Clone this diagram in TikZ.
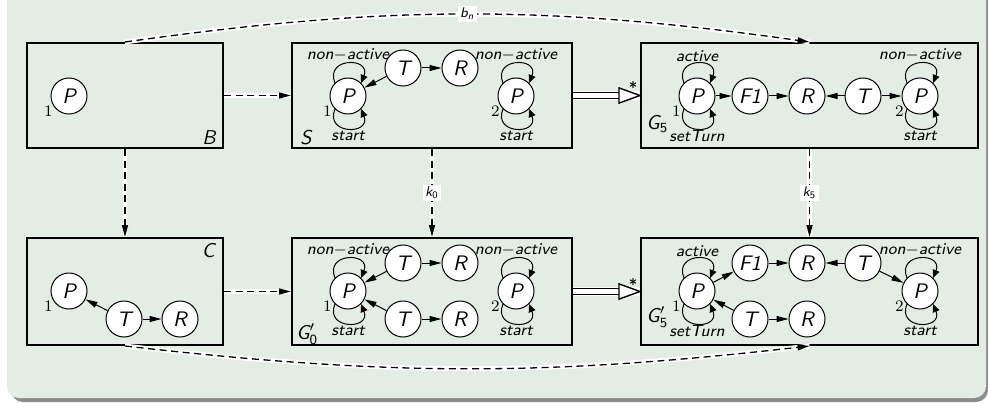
\documentclass[tikz,border=0pt]{standalone}
\usepackage{amsmath}
\usepackage{fontspec}
\usetikzlibrary{arrows.meta}
\definecolor{blockbg}{RGB}{227,237,227}
\definecolor{shadowc}{RGB}{140,140,140}
\newcommand{\looptop}[3]{\draw[lp] (#1.135) .. controls +(112:28) and +(68:28) .. (#1.45) node[midway, above, lt] (#3) {#2};}
\newcommand{\loopbot}[3]{\draw[lp] (#1.225) .. controls +(248:28) and +(292:28) .. (#1.315) node[midway, below, lt] (#3) {#2};}
\begin{document}
\begin{tikzpicture}[x=0.5pt,y=0.5pt,
  st/.style={circle, draw, line width=0.5pt, fill=white, minimum size=18pt, inner sep=0pt, font=\sffamily\itshape\fontsize{10.5}{12}\selectfont},
  box/.style={draw, line width=1pt, inner sep=0pt},
  ed/.style={-{Triangle[length=6pt,width=3pt]}, line width=0.5pt},
  lp/.style={-{Triangle[length=4pt,width=3.5pt]}, line width=0.5pt},
  lt/.style={font=\sffamily\itshape\fontsize{8.2}{9}\selectfont, inner sep=0.8pt},
  num/.style={label={[inner sep=0pt, font=\rmfamily\fontsize{8}{9}\selectfont]210:#1}},
  dsh/.style={dash pattern=on 3.5pt off 2.3pt, line width=0.65pt, -{Triangle[length=6pt,width=3pt]}, preaction={draw=white, line width=2.4pt, solid, -}},
  bl/.style={font=\sffamily\itshape\fontsize{10}{12}\selectfont, inner sep=0pt},
  kl/.style={fill=white, inner sep=1.2pt, font=\sffamily\itshape\fontsize{7}{8}\selectfont},
  dbl/.style={draw, line width=0.7pt, double=white, double distance=2.2pt},
  sym/.style={font=\sffamily\fontsize{8}{9}\selectfont, inner sep=0pt}
]
\useasboundingbox (0,0) rectangle (988,402);
\begin{scope}
\clip (0,0) rectangle (988,402);
\fill[shadowc, rounded corners=6pt] (11,0) rectangle (988,430);
\fill[blockbg, rounded corners=6pt] (7,4) rectangle (986,430);
\end{scope}

% boxes
\node[box, minimum width=98pt, minimum height=52.5pt] (B) at (125,306.5) {};
\node[box, minimum width=140pt, minimum height=52.5pt] (S) at (432,306.5) {};
\node[box, minimum width=168.5pt, minimum height=52.5pt] (G5) at (809.5,306.5) {};
\node[box, minimum width=98pt, minimum height=53.5pt] (C) at (125,110.5) {};
\node[box, minimum width=140pt, minimum height=53.5pt] (G0) at (432,110.5) {};
\node[box, minimum width=168.5pt, minimum height=53.5pt] (G5p) at (809.5,110.5) {};

% box names
\node[bl, anchor=base east] (Blab) at (216,257) {B};
\node[bl, anchor=base west] (Slab) at (300,257) {S};
\node[bl, anchor=base west] (G5lab) at (646,272) {G$_{\textsf{\upshape 5}}$};
\node[bl, anchor=base east] (Clab) at (215,145) {C};
\node[bl, anchor=base west] (G0lab) at (296,63) {G$'_{\textsf{\upshape 0}}$};
\node[bl, anchor=base west] (G5plab) at (646,80) {G$'_{\textsf{\upshape 5}}$};

% B
\node[st, num=1] (PB) at (69,306) {P};

% S
\node[st, num=1] (SP1) at (348,306) {P};
\node[st] (ST) at (403,334) {T};
\node[st] (SR) at (460,334) {R};
\node[st, num=2] (SP2) at (516,306) {P};
\looptop{SP1}{non$-$active}{s1}
\loopbot{SP1}{start}{s2}
\looptop{SP2}{non$-$active}{s3}
\loopbot{SP2}{start}{s4}
\draw[ed] (ST) -- (SP1);
\draw[ed] (ST) -- (SR);

% G5
\node[st, num=1] (GP1) at (697,306) {P};
\node[st] (GF) at (750,306) {F1};
\node[st] (GR) at (807,306) {R};
\node[st] (GT) at (863,306) {T};
\node[st, num=2] (GP2) at (920,306) {P};
\looptop{GP1}{active}{g1}
\loopbot{GP1}{setTurn}{g2}
\looptop{GP2}{non$-$active}{g3}
\loopbot{GP2}{start}{g4}
\draw[ed] (GP1) -- (GF);
\draw[ed] (GF) -- (GR);
\draw[ed] (GT) -- (GR);
\draw[ed] (GT) -- (GP2);

% C
\node[st, num=1] (CP) at (69,111) {P};
\node[st] (CT) at (124,83) {T};
\node[st] (CR) at (180,83) {R};
\draw[ed] (CT) -- (CP);
\draw[ed] (CT) -- (CR);

% G0'
\node[st, num=1] (HP1) at (348,111) {P};
\node[st] (HT1) at (403,139) {T};
\node[st] (HR1) at (460,139) {R};
\node[st] (HT2) at (403,83) {T};
\node[st] (HR2) at (460,83) {R};
\node[st, num=2] (HP2) at (516,111) {P};
\looptop{HP1}{non$-$active}{h1}
\loopbot{HP1}{start}{h2}
\looptop{HP2}{non$-$active}{h3}
\loopbot{HP2}{start}{h4}
\draw[ed] (HT1) -- (HP1);
\draw[ed] (HT1) -- (HR1);
\draw[ed] (HT2) -- (HP1);
\draw[ed] (HT2) -- (HR2);

% G5'
\node[st, num=1] (KP1) at (697,111) {P};
\node[st] (KF) at (750,139) {F1};
\node[st] (KR) at (807,139) {R};
\node[st] (KT) at (863,139) {T};
\node[st, num=2] (KP2) at (920,111) {P};
\node[st] (KT2) at (750,83) {T};
\node[st] (KR2) at (807,83) {R};
\looptop{KP1}{active}{k1}
\loopbot{KP1}{setTurn}{k2}
\looptop{KP2}{non$-$active}{k3}
\loopbot{KP2}{start}{k4}
\draw[ed] (KP1) -- (KF);
\draw[ed] (KF) -- (KR);
\draw[ed] (KT) -- (KR);
\draw[ed] (KT) -- (KP2);
\draw[ed] (KT2) -- (KP1);
\draw[ed] (KT2) -- (KR2);

% dashed connectors
\draw[dsh] (B.east) -- (S.west);
\draw[dsh] (B.south) -- (C.north);
\draw[dsh] (C.east) -- (G0.west);
\draw[dsh] (S.south) -- node[kl] (k0) {k$_{\textsf{\upshape 0}}$} (G0.north);
\draw[dsh] (G5.south) -- node[kl] (k5) {k$_{\textsf{\upshape 5}}$} (G5p.north);
\draw[dsh] (B.north) to[bend left=8] node[kl] (bn) {b$_{\textsf{n}}$} (G5.north);
\draw[dsh] (C.south) to[bend right=6.5] (G5p.south);

% double arrows
\draw[white, line width=4.5pt] (S.east) -- (G5.west);
\draw[dbl] (S.east) -- ([xshift=-10pt]G5.west);
\draw[line width=0.7pt, fill=white, line join=miter] (G5.west) -- ++(-10.5pt,3.8pt) -- ++(0pt,-7.6pt) -- cycle;
\node[sym] (star1) at (633,314) {*};

\draw[white, line width=4.5pt] (G0.east) -- (G5p.west);
\draw[dbl] (G0.east) -- ([xshift=-10pt]G5p.west);
\draw[line width=0.7pt, fill=white, line join=miter] (G5p.west) -- ++(-10.5pt,3.8pt) -- ++(0pt,-7.6pt) -- cycle;
\node[sym] (star2) at (633,118) {*};
\end{tikzpicture}
\end{document}
